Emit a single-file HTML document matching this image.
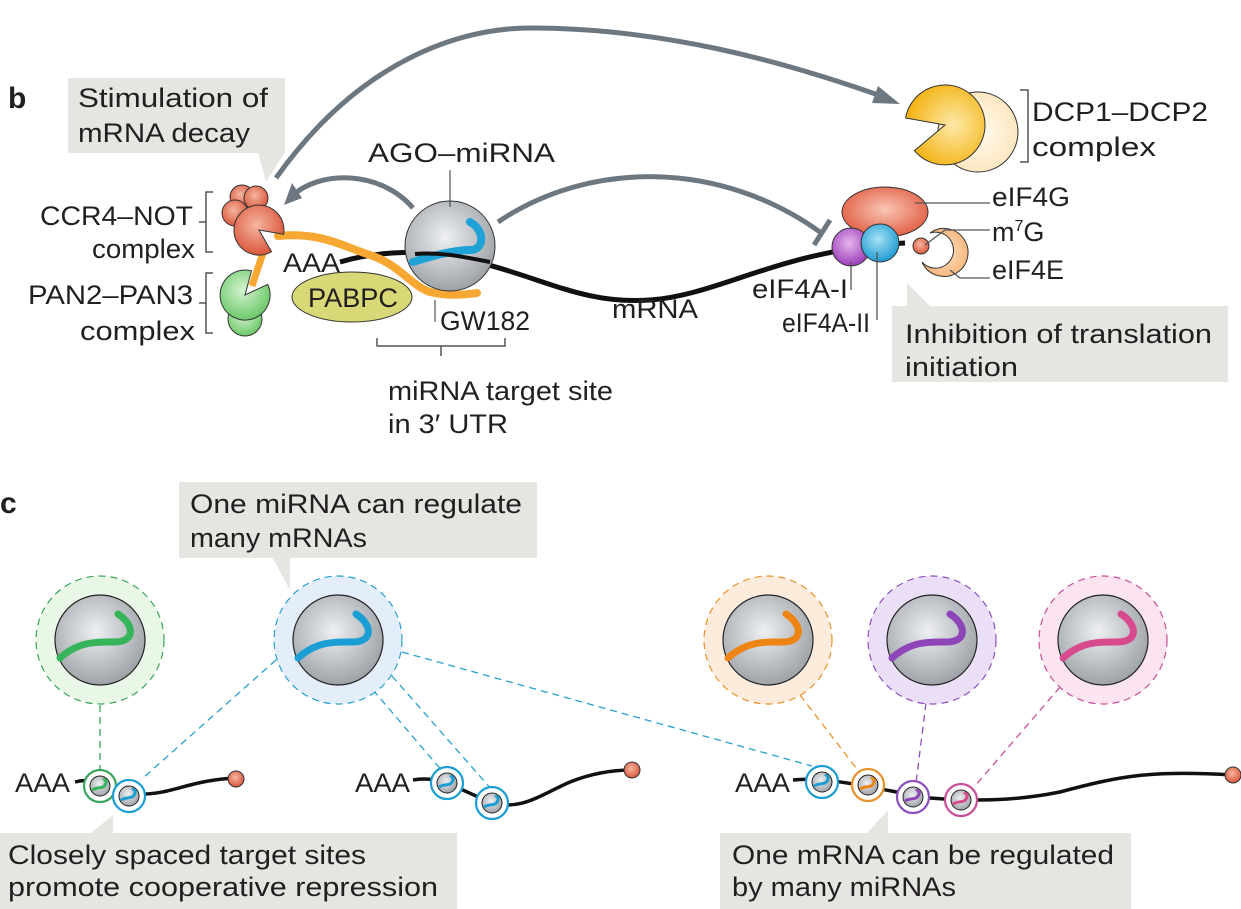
<!DOCTYPE html>
<html><head><meta charset="utf-8"><style>
html,body{margin:0;padding:0;background:#fff;}
svg{display:block;font-family:"Liberation Sans",sans-serif;}
text{fill:#231f20;font-size:27px;}
</style></head><body>
<svg width="1241" height="909" viewBox="0 0 1241 909">
<defs>
<radialGradient id="ago" cx="0.45" cy="0.4" r="0.6"><stop offset="0" stop-color="#eef0f2"/><stop offset="1" stop-color="#9ea3a8"/></radialGradient>
<radialGradient id="red" cx="0.45" cy="0.4" r="0.6"><stop offset="0" stop-color="#f6b5a0"/><stop offset="1" stop-color="#d9573c"/></radialGradient>
<radialGradient id="grn" cx="0.45" cy="0.4" r="0.6"><stop offset="0" stop-color="#d5f3cf"/><stop offset="1" stop-color="#6cc86a"/></radialGradient>
<radialGradient id="yel" cx="0.6" cy="0.5" r="0.6"><stop offset="0" stop-color="#fde9a8"/><stop offset="1" stop-color="#f3b10f"/></radialGradient>
<radialGradient id="pale" cx="0.5" cy="0.5" r="0.6"><stop offset="0" stop-color="#fffaf0"/><stop offset="1" stop-color="#fce3b8"/></radialGradient>
<radialGradient id="peach" cx="0.5" cy="0.5" r="0.6"><stop offset="0" stop-color="#fde1c2"/><stop offset="1" stop-color="#f6b074"/></radialGradient>
<radialGradient id="purp" cx="0.45" cy="0.4" r="0.6"><stop offset="0" stop-color="#e6b6ee"/><stop offset="1" stop-color="#9b3db8"/></radialGradient>
<radialGradient id="blue" cx="0.45" cy="0.4" r="0.6"><stop offset="0" stop-color="#a8e2f5"/><stop offset="1" stop-color="#1f9bd1"/></radialGradient>
<radialGradient id="g4" cx="0.5" cy="0.45" r="0.6"><stop offset="0" stop-color="#f9c6b5"/><stop offset="1" stop-color="#e0583d"/></radialGradient>
</defs>

<!-- panel b -->
<text x="8" y="108" style="font-weight:bold;font-size:30px">b</text>

<g>
<rect x="68" y="78" width="217" height="75" fill="#e5e5e2"/>
<polygon points="258,152 285,152 266,182" fill="#e5e5e2"/>
<text x="78" y="107" textLength="190" lengthAdjust="spacingAndGlyphs">Stimulation of</text>
<text x="78" y="142" textLength="172" lengthAdjust="spacingAndGlyphs">mRNA decay</text>
</g>

<!-- DCP complex -->
<g>
<circle cx="978" cy="132" r="40" fill="url(#pale)" stroke="#333" stroke-width="1"/>
<path d="M945,125 L905.6,118 A40,40 0 1,1 914.4,150.7 Z" fill="url(#yel)" stroke="#333" stroke-width="1"/>
<path d="M1020,90 H1028 V162 H1020" fill="none" stroke="#555" stroke-width="1.5"/>
<text x="1032" y="121" textLength="176" lengthAdjust="spacingAndGlyphs">DCP1–DCP2</text>
<text x="1032" y="156" textLength="124" lengthAdjust="spacingAndGlyphs">complex</text>
</g>

<!-- big arrow -->
<g fill="none" stroke="#6d7780" stroke-width="5">
<path d="M276,178 C360,60 460,28 530,28 C660,28 780,60 884,97"/>
</g>
<polygon points="900,104 878,86 872,103" fill="#6d7780"/>

<!-- AGO arrow to CCR4 -->
<path d="M413,208 C380,170 320,170 292,196" fill="none" stroke="#6d7780" stroke-width="5"/>
<polygon points="284,205 292,183 302,198" fill="#6d7780"/>
<!-- inhibition arc -->
<path d="M498,222 C590,160 720,160 820,232" fill="none" stroke="#6d7780" stroke-width="5"/>
<line x1="814" y1="245" x2="830" y2="220" stroke="#6d7780" stroke-width="5"/>

<!-- mRNA line -->
<path d="M340,262 C380,250 430,250 460,258 C540,275 580,305 650,300 C720,295 780,250 905,243" fill="none" stroke="#111" stroke-width="5"/>
<text x="283" y="272" textLength="57" lengthAdjust="spacingAndGlyphs">AAA</text>
<ellipse cx="352" cy="297" rx="60" ry="25" fill="#d8d877" stroke="#333" stroke-width="1"/>
<text x="308" y="307" textLength="90" lengthAdjust="spacingAndGlyphs">PABPC</text>

<!-- GW182 -->
<path d="M278,236 C320,232 340,245 370,255 C400,265 410,285 430,292 C450,297 470,294 477,293" fill="none" stroke="#f6a833" stroke-width="8" stroke-linecap="round"/>
<path d="M264,250 L252,286" fill="none" stroke="#f6a833" stroke-width="7"/>

<!-- AGO -->
<g>
<circle cx="450" cy="246" r="45" fill="url(#ago)" stroke="#333" stroke-width="1"/>
<path d="M413,262 C435,255 455,250 470,250 C485,250 485,230 470,222" fill="none" stroke="#1fa2d6" stroke-width="8" stroke-linecap="round"/>
<path d="M415,254 C440,252 460,256 490,262" fill="none" stroke="#111" stroke-width="4"/>
<line x1="450" y1="170" x2="450" y2="207" stroke="#333" stroke-width="1"/>
<text x="368" y="162" textLength="187" lengthAdjust="spacingAndGlyphs">AGO–miRNA</text>
</g>

<!-- CCR4-NOT -->
<g>
<circle cx="242" cy="197" r="12" fill="url(#red)" stroke="#333" stroke-width="1"/>
<circle cx="256" cy="198" r="12" fill="url(#red)" stroke="#333" stroke-width="1"/>
<circle cx="235" cy="213" r="13" fill="url(#red)" stroke="#333" stroke-width="1"/>
<path d="M259,230 L271.5,251.7 A25,25 0 1,1 283.6,234.3 Z" fill="url(#red)" stroke="#333" stroke-width="1"/>
<path d="M213,192 H206 V252 H213 M206,222 H199" fill="none" stroke="#555" stroke-width="1.5"/>
<text x="40" y="225" textLength="153" lengthAdjust="spacingAndGlyphs">CCR4–NOT</text>
<text x="92" y="258" textLength="103" lengthAdjust="spacingAndGlyphs">complex</text>
</g>
<g>
<circle cx="245" cy="319" r="17" fill="url(#grn)" stroke="#333" stroke-width="1"/>
<path d="M245,295 L267.7,284.4 A25,25 0 1,1 251.5,270.9 Z" fill="url(#grn)" stroke="#333" stroke-width="1"/>
<path d="M213,273 H206 V333 H213 M206,303 H199" fill="none" stroke="#555" stroke-width="1.5"/>
<text x="28" y="304" textLength="165" lengthAdjust="spacingAndGlyphs">PAN2–PAN3</text>
<text x="80" y="340" textLength="115" lengthAdjust="spacingAndGlyphs">complex</text>
</g>

<!-- GW182 label -->
<line x1="435" y1="300" x2="435" y2="322" stroke="#333" stroke-width="1"/>
<text x="440" y="330" textLength="90" lengthAdjust="spacingAndGlyphs">GW182</text>
<text x="612" y="318" textLength="86" lengthAdjust="spacingAndGlyphs">mRNA</text>
<g>
<path d="M377,338 V346 H505 V338 M441,346 V356" fill="none" stroke="#555" stroke-width="1.5"/>
<text x="388" y="400" textLength="225" lengthAdjust="spacingAndGlyphs">miRNA target site</text>
<text x="388" y="433" textLength="120" lengthAdjust="spacingAndGlyphs">in 3′ UTR</text>
</g>

<!-- eIF complex -->
<g>
<ellipse cx="885" cy="212" rx="43" ry="25" fill="url(#g4)" stroke="#333" stroke-width="1"/>
<path d="M930,233 A24,24 0 1,1 922,262 A18,18 0 1,0 930,233 Z" fill="url(#peach)" stroke="#333" stroke-width="1"/>
<circle cx="921" cy="246" r="8" fill="url(#red)" stroke="#333" stroke-width="1"/>
<circle cx="851" cy="247" r="19" fill="url(#purp)" stroke="#333" stroke-width="1"/>
<circle cx="880" cy="243" r="19" fill="url(#blue)" stroke="#333" stroke-width="1"/>
<path d="M915,203 H990 M925,245 L945,230 H990 M950,270 L960,278 H990 M851,262 V290 M877,252 V320" fill="none" stroke="#555" stroke-width="1.3"/>
<text x="992" y="206" textLength="78" lengthAdjust="spacingAndGlyphs">eIF4G</text>
<text x="992" y="241">m<tspan dy="-10" style="font-size:16px">7</tspan><tspan dy="10">G</tspan></text>
<text x="992" y="279" textLength="72" lengthAdjust="spacingAndGlyphs">eIF4E</text>
<text x="752" y="298" textLength="96" lengthAdjust="spacingAndGlyphs">eIF4A-I</text>
<text x="782" y="332" textLength="88" lengthAdjust="spacingAndGlyphs">eIF4A-II</text>
</g>
<g>
<rect x="892" y="306" width="336" height="76" fill="#e5e5e2"/>
<polygon points="907,283 907,306 930,306" fill="#e5e5e2"/>
<text x="905" y="343" textLength="307" lengthAdjust="spacingAndGlyphs">Inhibition of translation</text>
<text x="905" y="376" textLength="113" lengthAdjust="spacingAndGlyphs">initiation</text>
</g>

<!-- panel c -->
<text x="0" y="513" style="font-weight:bold;font-size:30px">c</text>
<g>
<rect x="179" y="482" width="358" height="76" fill="#e5e5e2"/>
<polygon points="272,557 290,557 290,590" fill="#e5e5e2"/>
<text x="190" y="513" textLength="332" lengthAdjust="spacingAndGlyphs">One miRNA can regulate</text>
<text x="190" y="547" textLength="177" lengthAdjust="spacingAndGlyphs">many mRNAs</text>
</g>

<!-- dashed connectors -->
<g fill="none" stroke-width="1.3" stroke-dasharray="7,5">
<line x1="100" y1="705" x2="100" y2="770" stroke="#3aa45a"/>
<line x1="276" y1="660" x2="143" y2="778" stroke="#27a0cc"/>
<line x1="373" y1="690" x2="443" y2="772" stroke="#27a0cc"/>
<line x1="392" y1="676" x2="492" y2="790" stroke="#27a0cc"/>
<line x1="402" y1="652" x2="812" y2="766" stroke="#27a0cc"/>
<line x1="800" y1="695" x2="860" y2="773" stroke="#e8922a"/>
<line x1="926" y1="703" x2="916" y2="783" stroke="#8e4fbf"/>
<line x1="1060" y1="687" x2="975" y2="786" stroke="#c8509a"/>
</g>

<!-- big AGO circles -->
<g>
<circle cx="100" cy="640" r="64" fill="#e9f7e6" stroke="#3aa45a" stroke-width="1.2" stroke-dasharray="7,5"/>
<circle cx="100" cy="640" r="45" fill="url(#ago)" stroke="#222" stroke-width="1.2"/>
<path d="M60,658 C80,640 100,642 115,642 C135,642 135,625 118,614" fill="none" stroke="#36b45a" stroke-width="7" stroke-linecap="round"/>
</g>
<g>
<circle cx="338" cy="640" r="64" fill="#e3eefa" stroke="#27a0cc" stroke-width="1.2" stroke-dasharray="7,5"/>
<circle cx="338" cy="640" r="45" fill="url(#ago)" stroke="#222" stroke-width="1.2"/>
<path d="M298,658 C318,640 338,642 353,642 C373,642 373,625 356,614" fill="none" stroke="#1a9ed3" stroke-width="7" stroke-linecap="round"/>
</g>
<g>
<circle cx="768" cy="640" r="64" fill="#fdecdc" stroke="#e8922a" stroke-width="1.2" stroke-dasharray="7,5"/>
<circle cx="768" cy="640" r="45" fill="url(#ago)" stroke="#222" stroke-width="1.2"/>
<path d="M728,658 C748,640 768,642 783,642 C803,642 803,625 786,614" fill="none" stroke="#ee8414" stroke-width="7" stroke-linecap="round"/>
</g>
<g>
<circle cx="932" cy="640" r="64" fill="#ebdff7" stroke="#8e4fbf" stroke-width="1.2" stroke-dasharray="7,5"/>
<circle cx="932" cy="640" r="45" fill="url(#ago)" stroke="#222" stroke-width="1.2"/>
<path d="M892,658 C912,640 932,642 947,642 C967,642 967,625 950,614" fill="none" stroke="#8e45b8" stroke-width="7" stroke-linecap="round"/>
</g>
<g>
<circle cx="1103" cy="640" r="64" fill="#fbe3ef" stroke="#c8509a" stroke-width="1.2" stroke-dasharray="7,5"/>
<circle cx="1103" cy="640" r="45" fill="url(#ago)" stroke="#222" stroke-width="1.2"/>
<path d="M1063,658 C1083,640 1103,642 1118,642 C1138,642 1138,625 1121,614" fill="none" stroke="#d84a8e" stroke-width="7" stroke-linecap="round"/>
</g>

<!-- mRNAs -->
<g>
<text x="15" y="792" textLength="55" lengthAdjust="spacingAndGlyphs">AAA</text>
<path d="M75,782 C100,775 115,795 140,794 C170,795 190,780 236,778" fill="none" stroke="#111" stroke-width="3.5"/>
<circle cx="100" cy="786" r="16" fill="#fff" stroke="#3aa45a" stroke-width="2.2"/>
<circle cx="100" cy="786" r="10" fill="url(#ago)" stroke="#222" stroke-width="1"/>
<path d="M92,790 C98,786 104,790 106,783 C107,780 104,779 103,780" fill="none" stroke="#36b45a" stroke-width="3"/>
<circle cx="129" cy="796" r="16" fill="#fff" stroke="#1a9ed3" stroke-width="2.2"/>
<circle cx="129" cy="796" r="10" fill="url(#ago)" stroke="#222" stroke-width="1"/>
<path d="M121,800 C127,796 133,800 135,793 C136,790 133,789 132,790" fill="none" stroke="#1a9ed3" stroke-width="3"/>
<circle cx="236" cy="779" r="8" fill="url(#red)" stroke="#333" stroke-width="1"/>
</g>
<g>
<text x="355" y="792" textLength="55" lengthAdjust="spacingAndGlyphs">AAA</text>
<path d="M413,780 C440,775 460,790 490,802 C520,812 540,795 570,782 C595,772 615,770 632,770" fill="none" stroke="#111" stroke-width="3.5"/>
<circle cx="447" cy="783" r="16" fill="#fff" stroke="#1a9ed3" stroke-width="2.2"/>
<circle cx="447" cy="783" r="10" fill="url(#ago)" stroke="#222" stroke-width="1"/>
<path d="M439,787 C445,783 451,787 453,780 C454,777 451,776 450,777" fill="none" stroke="#1a9ed3" stroke-width="3"/>
<circle cx="492" cy="803" r="16" fill="#fff" stroke="#1a9ed3" stroke-width="2.2"/>
<circle cx="492" cy="803" r="10" fill="url(#ago)" stroke="#222" stroke-width="1"/>
<path d="M484,807 C490,803 496,807 498,800 C499,797 496,796 495,797" fill="none" stroke="#1a9ed3" stroke-width="3"/>
<circle cx="632" cy="770" r="8" fill="url(#red)" stroke="#333" stroke-width="1"/>
</g>
<g>
<text x="735" y="792" textLength="55" lengthAdjust="spacingAndGlyphs">AAA</text>
<path d="M793,780 C830,776 880,790 930,798 C980,802 1020,800 1060,792 C1120,776 1150,770 1233,775" fill="none" stroke="#111" stroke-width="3.5"/>
<circle cx="822" cy="782" r="16" fill="#fff" stroke="#1a9ed3" stroke-width="2.2"/>
<circle cx="822" cy="782" r="10" fill="url(#ago)" stroke="#222" stroke-width="1"/>
<path d="M814,786 C820,782 826,786 828,779 C829,776 826,775 825,776" fill="none" stroke="#1a9ed3" stroke-width="3"/>
<circle cx="868" cy="785" r="16" fill="#fff" stroke="#e8922a" stroke-width="2.2"/>
<circle cx="868" cy="785" r="10" fill="url(#ago)" stroke="#222" stroke-width="1"/>
<path d="M860,789 C866,785 872,789 874,782 C875,779 872,778 871,779" fill="none" stroke="#ee8414" stroke-width="3"/>
<circle cx="913" cy="797" r="16" fill="#fff" stroke="#8e4fbf" stroke-width="2.2"/>
<circle cx="913" cy="797" r="10" fill="url(#ago)" stroke="#222" stroke-width="1"/>
<path d="M905,801 C911,797 917,801 919,794 C920,791 917,790 916,791" fill="none" stroke="#8e45b8" stroke-width="3"/>
<circle cx="961" cy="800" r="16" fill="#fff" stroke="#c8509a" stroke-width="2.2"/>
<circle cx="961" cy="800" r="10" fill="url(#ago)" stroke="#222" stroke-width="1"/>
<path d="M953,804 C959,800 965,804 967,797 C968,794 965,793 964,794" fill="none" stroke="#d84a8e" stroke-width="3"/>
<circle cx="1233" cy="775" r="8" fill="url(#red)" stroke="#333" stroke-width="1"/>
</g>

<g>
<rect x="0" y="833" width="457" height="76" fill="#e5e5e2"/>
<polygon points="90,834 113,834 113,815" fill="#e5e5e2"/>
<text x="8" y="864" textLength="358" lengthAdjust="spacingAndGlyphs">Closely spaced target sites</text>
<text x="8" y="896" textLength="430" lengthAdjust="spacingAndGlyphs">promote cooperative repression</text>
</g>
<g>
<rect x="720" y="833" width="411" height="76" fill="#e5e5e2"/>
<polygon points="866,834 888,834 888,810" fill="#e5e5e2"/>
<text x="732" y="864" textLength="382" lengthAdjust="spacingAndGlyphs">One mRNA can be regulated</text>
<text x="732" y="896" textLength="224" lengthAdjust="spacingAndGlyphs">by many miRNAs</text>
</g>
</svg>
</body></html>
